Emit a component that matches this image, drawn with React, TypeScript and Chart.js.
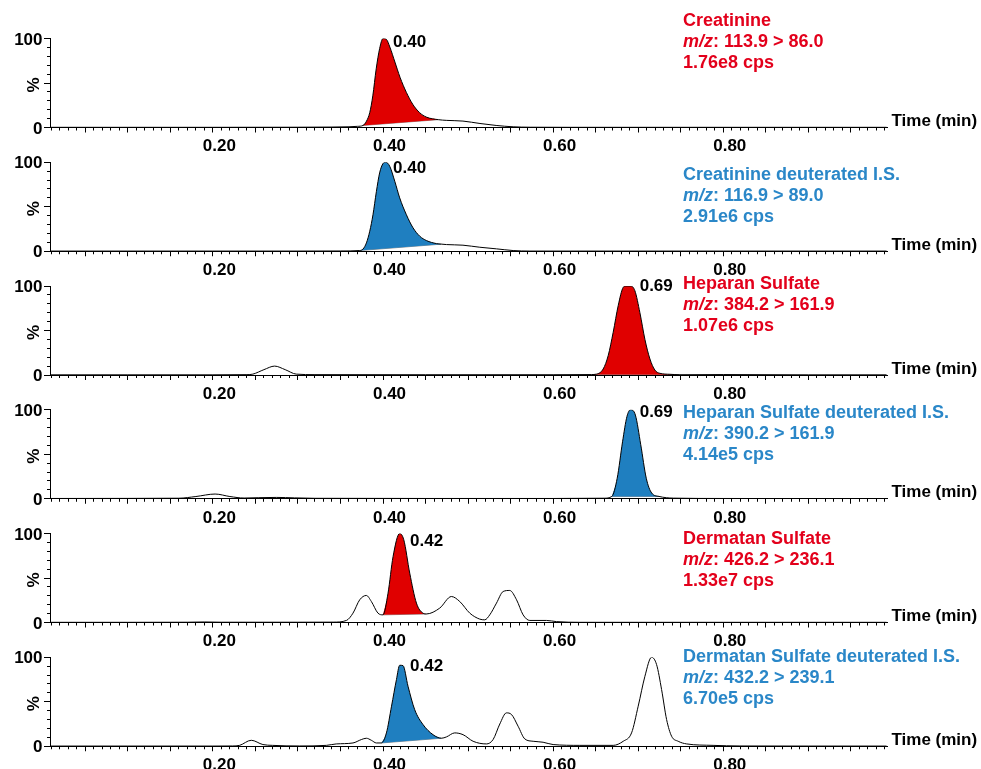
import React, { useEffect, useRef } from "react";
import { Chart, registerables } from "chart.js";

Chart.register(...registerables);

// ---------------- DATA ----------------
// Retention time (min) and relative intensity (%)
const creatinineTime = [0.009, 0.10, 0.20, 0.30, 0.34, 0.36, 0.37, 0.3765, 0.3805, 0.3844, 0.388, 0.392, 0.396, 0.400, 0.404, 0.408, 0.414, 0.420, 0.4275, 0.435, 0.443, 0.451, 0.465, 0.475, 0.494, 0.514, 0.533, 0.553, 0.573, 0.62, 0.70, 0.80, 0.90, 0.992];
const creatinineSignal = [0.2, 0.2, 0.2, 0.3, 0.5, 0.8, 1.3, 2.3, 7, 16.7, 35.6, 65.9, 88.6, 100, 99, 90.5, 73.5, 56.4, 39.4, 26, 16.7, 11.7, 8.8, 8, 7.2, 4.5, 2.3, 0.8, 0.3, 0.2, 0.2, 0.2, 0.2, 0.2];
const creatininePeak = [0.3765, 0.465];

const creatinineIsTime = [0.009, 0.10, 0.20, 0.30, 0.35, 0.3726, 0.3765, 0.3805, 0.3844, 0.3882, 0.3922, 0.396, 0.400, 0.4032, 0.4079, 0.4138, 0.4196, 0.4275, 0.4353, 0.4432, 0.4511, 0.4628, 0.4687, 0.4746, 0.494, 0.5138, 0.5334, 0.553, 0.5726, 0.62, 0.70, 0.80, 0.90, 0.992];
const creatinineIsSignal = [0.2, 0.2, 0.2, 0.2, 0.3, 0.8, 2.5, 9.4, 22.5, 41, 67, 88, 98.5, 100, 95.5, 78.7, 60, 41, 26.3, 16.9, 12, 8.6, 8, 7.5, 6.8, 4.5, 2.7, 0.8, 0.2, 0.2, 0.2, 0.2, 0.2, 0.2];
const creatinineIsPeak = [0.3726, 0.4687];

const heparanTime = [0.009, 0.10, 0.20, 0.24, 0.247, 0.26, 0.2726, 0.285, 0.298, 0.32, 0.45, 0.60, 0.645, 0.651, 0.6588, 0.6647, 0.6706, 0.6765, 0.6824, 0.6855, 0.691, 0.6961, 0.702, 0.7079, 0.7138, 0.7196, 0.7255, 0.7373, 0.749, 0.80, 0.90, 0.992];
const heparanSignal = [0.2, 0.2, 0.2, 0.4, 1, 6, 10, 6, 1, 0.4, 0.3, 0.3, 0.5, 1, 6.7, 21.7, 48, 78, 98.5, 100, 100, 94.7, 70, 40, 18, 5.6, 1.9, 0.8, 0.3, 0.5, 0.2, 0.2];
const heparanPeak = [0.645, 0.749];

const heparanIsTime = [0.009, 0.10, 0.16, 0.18, 0.2026, 0.22, 0.2367, 0.254, 0.275, 0.296, 0.32, 0.45, 0.60, 0.66, 0.669, 0.6753, 0.6816, 0.6868, 0.691, 0.6967, 0.703, 0.7095, 0.7159, 0.7245, 0.7415, 0.80, 0.90, 0.992];
const heparanIsSignal = [0.3, 0.4, 0.6, 2.5, 5.3, 2.5, 0.8, 1.2, 1.5, 1.0, 0.5, 0.3, 0.3, 0.6, 2.6, 23, 64, 92.5, 100, 94, 60.7, 23, 6.4, 2.6, 0.7, 0.3, 0.2, 0.2];
const heparanIsPeak = [0.669, 0.7245];

const dermatanTime = [0.009, 0.10, 0.17, 0.19, 0.21, 0.30, 0.3414, 0.357, 0.3647, 0.3726, 0.3804, 0.3863, 0.3941, 0.400, 0.4059, 0.4118, 0.4196, 0.4244, 0.4314, 0.4393, 0.447, 0.451, 0.4667, 0.4804, 0.4902, 0.502, 0.5137, 0.5196, 0.5255, 0.5334, 0.5412, 0.549, 0.557, 0.5647, 0.5726, 0.5922, 0.604, 0.6314, 0.70, 0.80, 0.90, 0.992];
const dermatanSignal = [0.2, 0.2, 0.3, 0.6, 0.3, 0.3, 0.4, 2.3, 10.5, 25.5, 30.4, 23.6, 10.5, 8.6, 33, 74, 100, 93, 55.5, 21.8, 10.5, 9.6, 16.2, 29.2, 23.6, 10.5, 3.8, 3.0, 8.6, 21.8, 34.8, 36, 25.5, 8.6, 2.3, 2.3, 1, 0.2, 0.2, 0.2, 0.2, 0.2];
const dermatanPeak = [0.400, 0.451];

const dermatanIsTime = [0.009, 0.10, 0.20, 0.223, 0.2314, 0.2451, 0.2588, 0.27, 0.302, 0.3334, 0.345, 0.3647, 0.3745, 0.3804, 0.3863, 0.3922, 0.398, 0.404, 0.41, 0.4158, 0.4196, 0.4235, 0.4294, 0.4373, 0.447, 0.4588, 0.4687, 0.4746, 0.4843, 0.4941, 0.5059, 0.5216, 0.5294, 0.5373, 0.5451, 0.551, 0.5588, 0.5667, 0.5765, 0.5882, 0.600, 0.6314, 0.6706, 0.6824, 0.6922, 0.700, 0.7079, 0.7157, 0.7216, 0.7275, 0.7334, 0.7393, 0.747, 0.757, 0.788, 0.8196, 0.90, 0.992];
const dermatanIsSignal = [0.2, 0.2, 0.2, 0.3, 1, 6.7, 1.9, 1, 0.3, 1, 2.6, 3.7, 7.5, 9, 6.7, 3.7, 3.7, 15, 45, 75, 91, 90.6, 67.4, 41, 24.4, 13, 9, 10.5, 15, 13, 5.6, 2.6, 7.5, 25, 37.5, 35.7, 22.5, 8.2, 5.6, 4.5, 1.9, 1, 1, 5.6, 15, 45, 78.6, 100, 91.8, 63.7, 30, 11.2, 5.6, 2.6, 1, 0.3, 0.2, 0.2];
const dermatanIsPeak = [0.398, 0.4687];

const compoundNames = [
  "Creatinine",
  "Creatinine deuterated I.S.",
  "Heparan Sulfate",
  "Heparan Sulfate deuterated I.S.",
  "Dermatan Sulfate",
  "Dermatan Sulfate deuterated I.S.",
];
const mzTransitions = ["113.9 > 86.0", "116.9 > 89.0", "384.2 > 161.9", "390.2 > 161.9", "426.2 > 236.1", "432.2 > 239.1"];
const intensities = ["1.76e8 cps", "2.91e6 cps", "1.07e6 cps", "4.14e5 cps", "1.33e7 cps", "6.70e5 cps"];
const peakRetention = [0.40, 0.40, 0.69, 0.69, 0.42, 0.42];
const isStandard = [false, true, false, true, false, true];

const xTickLabels = [0.2, 0.4, 0.6, 0.8];
const yTickLabels = [0, 100];
const TIME_MIN = 0.0085;
const TIME_MAX = 0.9925;

const traceTimes = [creatinineTime, creatinineIsTime, heparanTime, heparanIsTime, dermatanTime, dermatanIsTime];
const traceSignals = [creatinineSignal, creatinineIsSignal, heparanSignal, heparanIsSignal, dermatanSignal, dermatanIsSignal];
const peakWindows = [creatininePeak, creatinineIsPeak, heparanPeak, heparanIsPeak, dermatanPeak, dermatanIsPeak];

// ---------------- STYLE / LAYOUT ----------------
const W = 981;
const H = 769;
const PANEL_STEP = 123.75;
const PLOT_TOP0 = 38.5;
const PLOT_H = 89;
const CANVAS_H = 160;
const X_AXIS_H = 30;
const PLOT_LEFT = 50;
const PLOT_RIGHT = 887;
const FONT_FAMILY = '"Liberation Sans", Arial, Helvetica, sans-serif';
const FONT_SIZE = 17;
const ANNOT_FONT_SIZE = 18;
const RED_TEXT = "#E3001B";
const BLUE_TEXT = "#2A87C8";
const RED_FILL = "#E00000";
const BLUE_FILL = "#1F7FC0";
const ANNOT_X = 683;
const ANNOT_LINE = 21;
const annotOffsets = [-17, 12.5, -1.5, 3.3, 5.5, -0.3];
const peakLabelDy = [4.3, 6.2, 0.5, 2.5, 7.5, 9];

function Panel({ index }: { index: number }) {
  const ref = useRef<HTMLCanvasElement | null>(null);
  const canvasTop = Math.round(PANEL_STEP * index);
  const padTop = PLOT_TOP0 + PANEL_STEP * index - canvasTop;

  useEffect(() => {
    if (!ref.current) return;
    const times = traceTimes[index];
    const signals = traceSignals[index];
    const n = Math.min(times.length, signals.length);
    const trace: { x: number; y: number }[] = [];
    for (let k = 0; k < n; k++) trace.push({ x: times[k], y: signals[k] });
    const win = peakWindows[index];
    const peakPts = trace.filter((p) => p.x >= win[0] - 1e-9 && p.x <= win[1] + 1e-9);
    const basePts = [peakPts[0], peakPts[peakPts.length - 1]];
    const blue = isStandard[index];
    const fillColor = blue ? BLUE_FILL : RED_FILL;
    const textColor = blue ? BLUE_TEXT : RED_TEXT;
    const font = { family: FONT_FAMILY, size: FONT_SIZE, weight: "bold" as const };
    const padBottom = CANVAS_H - (padTop + PLOT_H) - X_AXIS_H;

    const textPlugin = {
      id: "panelText" + index,
      afterDraw(chart: any) {
        const { ctx, chartArea, scales } = chart;
        ctx.save();
        const bold = `bold ${FONT_SIZE}px ${FONT_FAMILY}`;
        const annBold = `bold ${ANNOT_FONT_SIZE}px ${FONT_FAMILY}`;
        const annBoldItalic = `italic bold ${ANNOT_FONT_SIZE}px ${FONT_FAMILY}`;
        // y axis title
        ctx.fillStyle = "#000";
        ctx.font = bold;
        ctx.save();
        ctx.translate(34, (chartArea.top + chartArea.bottom) / 2 + 2);
        ctx.rotate(-Math.PI / 2);
        ctx.textAlign = "center";
        ctx.textBaseline = "middle";
        ctx.fillText("%", 0, 0);
        ctx.restore();
        // x axis title
        ctx.textAlign = "left";
        ctx.textBaseline = "alphabetic";
        ctx.fillText("Time (min)", chartArea.right + 4.5, chartArea.bottom - 1.5);
        // peak label
        ctx.textBaseline = "middle";
        const rt = peakRetention[index];
        ctx.fillText(rt.toFixed(2), scales.x.getPixelForValue(rt) + 10, chartArea.top + peakLabelDy[index]);
        // annotation
        ctx.fillStyle = textColor;
        ctx.font = annBold;
        const y0 = chartArea.top + annotOffsets[index];
        ctx.fillText(compoundNames[index], ANNOT_X, y0);
        ctx.font = annBoldItalic;
        ctx.fillText("m/z", ANNOT_X, y0 + ANNOT_LINE);
        const w = ctx.measureText("m/z").width;
        ctx.font = annBold;
        ctx.fillText(": " + mzTransitions[index], ANNOT_X + w, y0 + ANNOT_LINE);
        ctx.fillText(intensities[index], ANNOT_X, y0 + 2 * ANNOT_LINE);
        ctx.restore();
      },
    };

    const chart = new Chart(ref.current, {
      type: "line",
      data: {
        datasets: [
          {
            data: trace,
            borderColor: "#000",
            borderWidth: 1,
            pointRadius: 0,
            cubicInterpolationMode: "monotone",
            fill: false,
            order: 0,
            xAxisID: "x",
            yAxisID: "y",
          },
          {
            data: peakPts,
            borderColor: "rgba(0,0,0,0)",
            borderWidth: 1,
            backgroundColor: fillColor,
            pointRadius: 0,
            cubicInterpolationMode: "monotone",
            fill: 2,
            order: 1,
            xAxisID: "x",
            yAxisID: "y",
          },
          {
            data: basePts,
            borderColor: "rgba(0,0,0,0.55)",
            borderWidth: 0.8,
            pointRadius: 0,
            fill: false,
            order: 2,
            xAxisID: "x",
            yAxisID: "y",
          },
        ] as any,
      },
      options: {
        animation: false,
        responsive: false,
        events: [],
        layout: { padding: { top: padTop, left: 0, right: W - PLOT_RIGHT, bottom: padBottom } },
        plugins: { legend: { display: false }, tooltip: { enabled: false }, title: { display: false } },
        scales: {
          x: {
            type: "linear",
            position: "bottom",
            weight: 1,
            min: TIME_MIN,
            max: TIME_MAX,
            afterFit: (s: any) => {
              s.height = X_AXIS_H;
            },
            border: { display: true, color: "#000", width: 1 },
            grid: { drawOnChartArea: false, drawTicks: true, tickLength: 5, color: "#000", tickColor: "#000" },
            ticks: {
              stepSize: 0.05,
              autoSkip: false,
              maxRotation: 0,
              minRotation: 0,
              includeBounds: false,
              maxTicksLimit: 1000,
              padding: 4,
              labelOffset: 6.5,
              font,
              color: "#000",
              callback: (v: any) => {
                const val = Number(v);
                return xTickLabels.some((t) => Math.abs(t - val) < 1e-6) ? val.toFixed(2) : "";
              },
            },
          },
          x2: {
            type: "linear",
            position: "bottom",
            weight: 0,
            min: TIME_MIN,
            max: TIME_MAX,
            afterFit: (s: any) => {
              s.height = 0;
            },
            border: { display: false },
            grid: { drawOnChartArea: false, drawTicks: true, tickLength: 3, color: "#000", tickColor: "#000" },
            ticks: {
              stepSize: 0.01,
              autoSkip: false,
              maxRotation: 0,
              minRotation: 0,
              includeBounds: false,
              maxTicksLimit: 1000,
              display: false,
            },
          },
          y: {
            type: "linear",
            position: "left",
            weight: 1,
            min: 0,
            max: 100,
            afterFit: (s: any) => {
              s.width = PLOT_LEFT;
            },
            border: { display: true, color: "#000", width: 1 },
            grid: { drawOnChartArea: false, drawTicks: true, tickLength: 6, color: "#000", tickColor: "#000" },
            ticks: {
              stepSize: 50,
              autoSkip: false,
              padding: 1.5,
              labelOffset: 1.5,
              font,
              color: "#000",
              callback: (v: any) => (yTickLabels.includes(Number(v)) ? String(v) : ""),
            },
          },
          y2: {
            type: "linear",
            position: "left",
            weight: 0,
            min: 0,
            max: 100,
            afterFit: (s: any) => {
              s.width = 0;
            },
            border: { display: false },
            grid: { drawOnChartArea: false, drawTicks: true, tickLength: 3, color: "#000", tickColor: "#000" },
            ticks: { stepSize: 10, autoSkip: false, display: false },
          },
        },
      } as any,
      plugins: [textPlugin],
    });
    return () => chart.destroy();
  }, [index, padTop]);

  return (
    <canvas
      ref={ref}
      width={W}
      height={CANVAS_H}
      style={{ position: "absolute", left: 0, top: canvasTop, width: W, height: CANVAS_H }}
    />
  );
}

export default function App() {
  return (
    <div
      style={{
        position: "absolute",
        left: 0,
        top: 0,
        width: W,
        height: H,
        overflow: "hidden",
        background: "#fff",
      }}
    >
      {compoundNames.map((_, i) => (
        <Panel key={i} index={i} />
      ))}
    </div>
  );
}
